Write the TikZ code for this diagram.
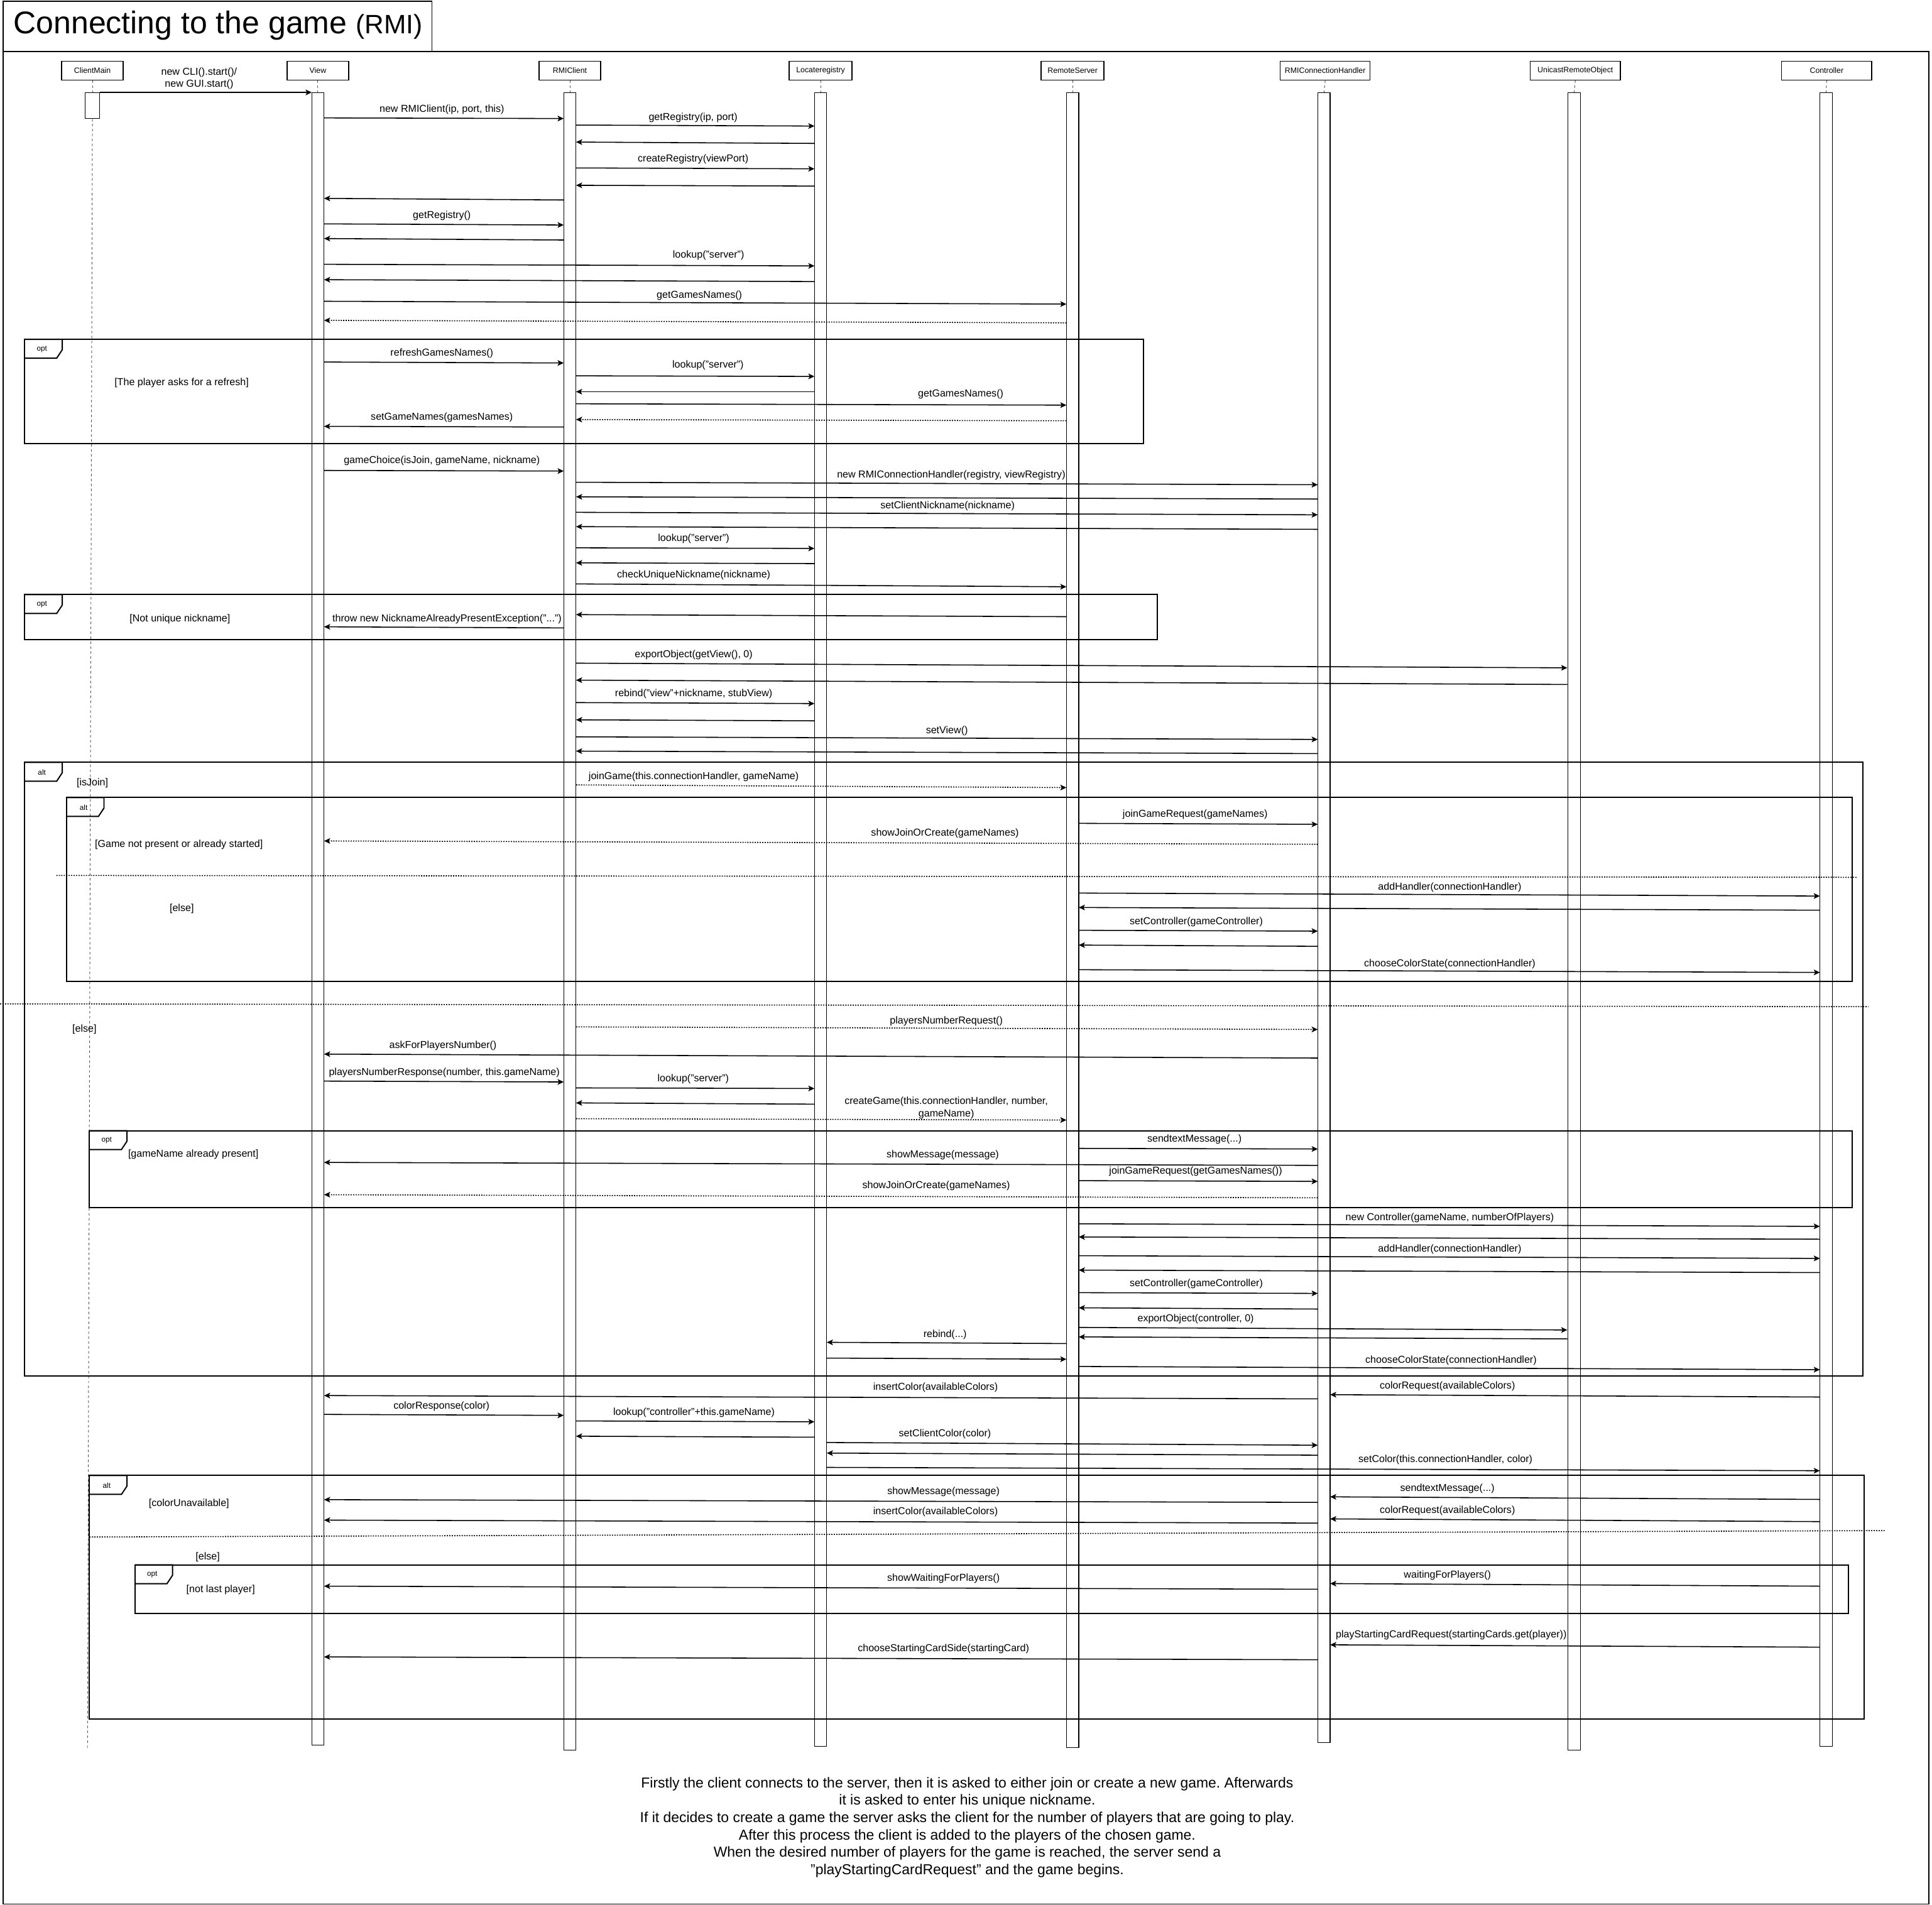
\documentclass[tikz,border=0pt]{standalone}
\usepackage{fontspec}
\setmainfont{Liberation Sans}
\usetikzlibrary{arrows.meta}
\frenchspacing
\newcounter{lbc}
\newcommand{\M}[3][arr]{\draw[#1] (#2) -- (#3);}
\newcommand{\Lb}[2]{\stepcounter{lbc}\node[lbl] (lb\arabic{lbc}) at (#1) {#2};}
\newcommand{\Tag}[4]{\draw[frm] (#1,#2) -- ++(30.5,0) -- ++(0,8.5) -- ++(-4.5,6.8) -- ++(-26,0);
  \node[tagtxt] (#3) at (#1+14,#2+8) {#4};}
\def\Vl{253}\def\Vr{263}
\def\Rl{457.5}\def\Rr{467.5}
\def\Ll{661}\def\Lr{671}
\def\Sl{865.5}\def\Sr{875.5}
\def\Hl{1069.5}\def\Hr{1079.5}
\def\Ul{1272}\def\Ur{1282.5}
\def\Cl{1477}\def\Cr{1487}
\begin{document}
\begin{tikzpicture}[x=1pt,y=-1pt,
  lbl/.style={inner sep=0pt, align=center, font=\fontsize{8.2}{10}\selectfont},
  hdr/.style={draw, line width=0.7pt, inner sep=0pt, minimum height=15.4pt, font=\fontsize{6.3}{7}\selectfont},
  actbox/.style={draw, fill=white, line width=0.55pt, inner sep=0pt, minimum width=10pt, anchor=north},
  lifeln/.style={draw=gray!70!black, line width=0.5pt, dash pattern=on 2pt off 2pt},
  frm/.style={draw, line width=1pt},
  arr/.style={line width=0.8pt, -{Stealth[length=5pt,width=4.6pt,inset=1.2pt]}},
  retd/.style={arr, dash pattern=on 1pt off 1pt},
  sepl/.style={line width=0.8pt, dash pattern=on 1pt off 1pt},
  tagtxt/.style={inner sep=0pt, font=\fontsize{6}{7}\selectfont}]
\useasboundingbox (0,0) rectangle (1568,1546);
\fill[white] (0,0) rectangle (1568,1546);
% title and outer frame
\draw[line width=0.8pt] (2.5,1) rectangle (350.6,41.7);
\draw[line width=0.8pt] (2.5,41.7) rectangle (1565.3,1545.3);
\node[anchor=base west, inner sep=0pt, font=\fontsize{25.5}{30}\selectfont] (title) at (10.8,27.2) {Connecting to the game {\fontsize{21.6}{26}\selectfont(RMI)}};
% headers
\node[hdr, minimum width=50pt] (hCM) at (75,57.3) {ClientMain};
\node[hdr, minimum width=50pt] (hV) at (258,57.3) {View};
\node[hdr, minimum width=50pt] (hR) at (462.5,57.3) {RMIClient};
\node[hdr, minimum width=51pt] (hL) at (666,57.3) {Locateregistry};
\node[hdr, minimum width=51pt] (hS) at (870.5,57.3) {RemoteServer};
\node[hdr, minimum width=73pt] (hH) at (1075.5,57.3) {RMIConnectionHandler};
\node[hdr, minimum width=73pt] (hU) at (1278.5,57.3) {UnicastRemoteObject};
\node[hdr, minimum width=73pt] (hC) at (1482.5,57.3) {Controller};
% activations
\node[actbox, minimum width=12pt, minimum height=21pt] (aCM) at (75,75) {};
\node[actbox, minimum height=1341pt] (aV) at (258,75) {};
\node[actbox, minimum height=1345pt] (aR) at (462.5,75) {};
\node[actbox, minimum height=1342pt] (aL) at (666,75) {};
\node[actbox, minimum height=1343pt] (aS) at (870.5,75) {};
\node[actbox, minimum height=1339pt] (aH) at (1074.5,75) {};
\node[actbox, minimum height=1345pt] (aU) at (1277.5,75) {};
\node[actbox, minimum height=1342pt] (aC) at (1482,75) {};
\coordinate (cmEnd) at (71,1419);
\foreach \h/\a in {hCM/aCM,hV/aV,hR/aR,hL/aL,hS/aS,hH/aH,hU/aU,hC/aC}{\draw[lifeln] (\h.south) -- (\a.north);}
\draw[lifeln] (aCM.south) -- (cmEnd);
% frames
\draw[frm] (20,275.4) rectangle (928,360);
\Tag{20}{275.4}{t1}{opt}
\draw[frm] (20,482.6) rectangle (939.4,519.1);
\Tag{20}{482.6}{t2}{opt}
\draw[frm] (20,618.7) rectangle (1512,1116.8);
\Tag{20}{618.7}{t3}{alt}
\draw[frm] (53.9,647.3) rectangle (1503.3,796.5);
\Tag{53.9}{647.3}{t4}{alt}
\draw[frm] (72.6,917.6) rectangle (1503.3,980.1);
\Tag{72.6}{917.6}{t5}{opt}
\draw[frm] (72.6,1197.5) rectangle (1512.7,1394.9);
\Tag{72.6}{1197.5}{t6}{alt}
\draw[frm] (109.5,1270) rectangle (1500.4,1309.6);
\Tag{109.5}{1270}{t7}{opt}
% separators
\draw[sepl] (45.7,710.5) -- (1506.7,712);
\draw[sepl] (0,814.7) -- (1516.3,817);
\draw[sepl] (72.6,1247.4) -- (1529.6,1242.2);
% guards
\Lb{147.4,310.6}{[The player asks for a refresh]}
\Lb{146,502.3}{[Not unique nickname]}
\Lb{75,635.6}{[isJoin]}
\Lb{145.2,685.4}{[Game not present or already started]}
\Lb{147.5,737.7}{[else]}
\Lb{68.5,835.4}{[else]}
\Lb{156.9,937.1}{[gameName already present]}
\Lb{153.4,1220.5}{[colorUnavailable]}
\Lb{168.6,1263.5}{[else]}
\Lb{179.1,1290.2}{[not last player]}
% messages
\M{aCM.east |- 0,75}{\Vl,75}
\Lb{161.6,63.7}{new CLI().start()/\\new GUI.start()}
\M{\Vr,95.7}{\Rl,96.2} \Lb{358.6,88.8}{new RMIClient(ip, port, this)}
\M{\Rr,101.5}{\Ll,102.3} \Lb{562.5,95.3}{getRegistry(ip, port)}
\M{\Ll,116.4}{\Rr,115.3}
\M{\Rr,136.3}{\Ll,137} \Lb{562.5,129}{createRegistry(viewPort)}
\M{\Ll,151}{\Rr,150.4}
\M{\Rl,162.3}{\Vr,161}
\M{\Vr,181.7}{\Rl,182.6} \Lb{358.6,175}{getRegistry()}
\M{\Rl,194.8}{\Vr,193.6}
\M{\Vr,214.5}{\Ll,215.8} \Lb{575,207}{lookup("server")}
\M{\Ll,228.5}{\Vr,227}
\M{\Vr,244.5}{\Sl,246.8} \Lb{567.6,240}{getGamesNames()}
\M[retd]{\Sl,262}{\Vr,260}
\M{\Vr,293.8}{\Rl,294.6} \Lb{358.6,287}{refreshGamesNames()}
\M{\Rr,305}{\Ll,305.5} \Lb{574.6,296.3}{lookup("server")}
\M{\Ll,317.9}{\Rr,317.9}
\M{\Rr,327.7}{\Sl,328.8} \Lb{779.7,319.8}{getGamesNames()}
\M[retd]{\Sl,341.5}{\Rr,340.5}
\M{\Rl,346.6}{\Vr,346} \Lb{358.6,339}{setGameNames(gamesNames)}
\M{\Vr,381.8}{\Rl,382.3} \Lb{358.6,374}{gameChoice(isJoin, gameName, nickname)}
\M{\Rr,391.4}{\Hl,393.4} \Lb{772,385.5}{new RMIConnectionHandler(registry, viewRegistry)}
\M{\Hl,405}{\Rr,403.2}
\M{\Rr,415.8}{\Hl,417.8} \Lb{769,410.5}{setClientNickname(nickname)}
\M{\Hl,429.6}{\Rr,427.4}
\M{\Rr,444.6}{\Ll,445.1} \Lb{563,437.3}{lookup("server")}
\M{\Ll,457.4}{\Rr,456.8}
\M{\Rr,473.9}{\Sl,476.2} \Lb{563,467}{checkUniqueNickname(nickname)}
\M{\Sl,500.5}{\Rr,498.8}
\M{\Rl,509.6}{\Vr,508.7} \Lb{362.8,502.3}{throw new NicknameAlreadyPresentException("...")}
\M{\Rr,538.2}{\Ul,542} \Lb{563,531.4}{exportObject(getView(), 0)}
\M{\Ul,555.5}{\Rr,552}
\M{\Rr,570.2}{\Ll,571} \Lb{563,563.3}{rebind("view"+nickname, stubView)}
\M{\Ll,585}{\Rr,584.2}
\M{\Rr,598}{\Hl,600.1} \Lb{768.5,593.2}{setView()}
\M{\Hl,611.6}{\Rr,609.6}
\M[retd]{\Rr,637}{\Sl,639.2} \Lb{563,630.2}{joinGame(this.connectionHandler, gameName)}
\M{\Sr,668.2}{\Hl,669} \Lb{970,661.2}{joinGameRequest(gameNames)}
\M[retd]{\Hl,685.2}{\Vr,682.5} \Lb{766.9,676.5}{showJoinOrCreate(gameNames)}
\M{\Sr,724.8}{\Cl,727.2} \Lb{1176.6,720.2}{addHandler(connectionHandler)}
\M{\Cl,738.7}{\Sr,736.5}
\M{\Sr,755}{\Hl,755.7} \Lb{970.9,748.2}{setController(gameController)}
\M{\Hl,768}{\Sr,767}
\M{\Sr,787}{\Cl,789.2} \Lb{1176.6,782.3}{chooseColorState(connectionHandler)}
\M[retd]{\Rr,833.4}{\Hl,835.5} \Lb{768,828.7}{playersNumberRequest()}
\M{\Hl,858.7}{\Vr,855.5} \Lb{359.5,848.5}{askForPlayersNumber()}
\M{\Vr,877.4}{\Rl,878.1} \Lb{360.6,870.5}{playersNumberResponse(number, this.gameName)}
\M{\Rr,882.9}{\Ll,883.4} \Lb{562.6,875.7}{lookup("server")}
\M{\Ll,896.1}{\Rr,895.1}
\M[retd]{\Rr,907.9}{\Sl,909} \Lb{768,899}{createGame(this.connectionHandler, number,\\gameName)}
\M{\Sr,932}{\Hl,932.5} \Lb{969.4,924.7}{sendtextMessage(...)}
\M{\Hl,945.8}{\Vr,943.4} \Lb{765.1,937.4}{showMessage(message)}
\M{\Sr,958.2}{\Hl,958.8} \Lb{970.4,950.5}{joinGameRequest(getGamesNames())}
\M[retd]{\Hl,972.1}{\Vr,969.6} \Lb{759.8,962.6}{showJoinOrCreate(gameNames)}
\M{\Sr,993.2}{\Cl,995.3} \Lb{1176.6,988.2}{new Controller(gameName, numberOfPlayers)}
\M{\Cl,1005.7}{\Sr,1003.9}
\M{\Sr,1019.1}{\Cl,1021.3} \Lb{1176.6,1014}{addHandler(connectionHandler)}
\M{\Cl,1032.8}{\Sr,1030.8}
\M{\Sr,1049.1}{\Hl,1049.7} \Lb{970.9,1042}{setController(gameController)}
\M{\Hl,1062.4}{\Sr,1061.4}
\M{\Sr,1077.3}{\Ul,1079.4} \Lb{970.4,1070.3}{exportObject(controller, 0)}
\M{\Ul,1086.6}{\Sr,1085}
\M{\Sl,1090.4}{\Lr,1089.4} \Lb{767,1083}{rebind(...)}
\M{\Lr,1102.2}{\Sl,1103.1}
\M{\Sr,1109}{\Cl,1111.6} \Lb{1177.6,1104.1}{chooseColorState(connectionHandler)}
\M{\Hl,1135.3}{\Vr,1132.6} \Lb{759.3,1126.1}{insertColor(availableColors)}
\M{\Cl,1133.8}{\Hr,1131.9} \Lb{1174.7,1125}{colorRequest(availableColors)}
\M{\Vr,1147.9}{\Rl,1148.7} \Lb{358.3,1141.4}{colorResponse(color)}
\M{\Rr,1153.2}{\Ll,1153.9} \Lb{563.2,1146.7}{lookup("controller"+this.gameName)}
\M{\Ll,1166.4}{\Rr,1165.6}
\M{\Lr,1170.7}{\Hl,1172.9} \Lb{766.9,1163.9}{setClientColor(color)}
\M{\Hl,1181}{\Lr,1179.3}
\M{\Lr,1190.9}{\Cl,1193.6} \Lb{1173.1,1184.8}{setColor(this.connectionHandler, color)}
\M{\Hl,1219.3}{\Vr,1217.1} \Lb{765.7,1210.6}{showMessage(message)}
\M{\Cl,1216.9}{\Hr,1214.8} \Lb{1174.7,1208.2}{sendtextMessage(...)}
\M{\Hl,1236.1}{\Vr,1233.7} \Lb{759.3,1226.9}{insertColor(availableColors)}
\M{\Cl,1234.9}{\Hr,1232.7} \Lb{1174.7,1225.9}{colorRequest(availableColors)}
\M{\Hl,1289.8}{\Vr,1287.3} \Lb{765.7,1281}{showWaitingForPlayers()}
\M{\Cl,1287.3}{\Hr,1285.2} \Lb{1174.7,1278.6}{waitingForPlayers()}
\M{\Cl,1336.8}{\Hr,1334.9} \Lb{1177.8,1327.1}{playStartingCardRequest(startingCards.get(player))}
\M{\Hl,1347}{\Vr,1344.7} \Lb{765.7,1338.1}{chooseStartingCardSide(startingCard)}
% note
\node[align=center, inner sep=0pt, font=\fontsize{11.7}{14.1}\selectfont] (note) at (785,1483) {Firstly the client connects to the server, then it is asked to either join or create a new game. Afterwards\\it is asked to enter his unique nickname.\\If it decides to create a game the server asks the client for the number of players that are going to play.\\After this process the client is added to the players of the chosen game.\\When the desired number of players for the game is reached, the server send a\\"playStartingCardRequest" and the game begins.};
\end{tikzpicture}
\end{document}
